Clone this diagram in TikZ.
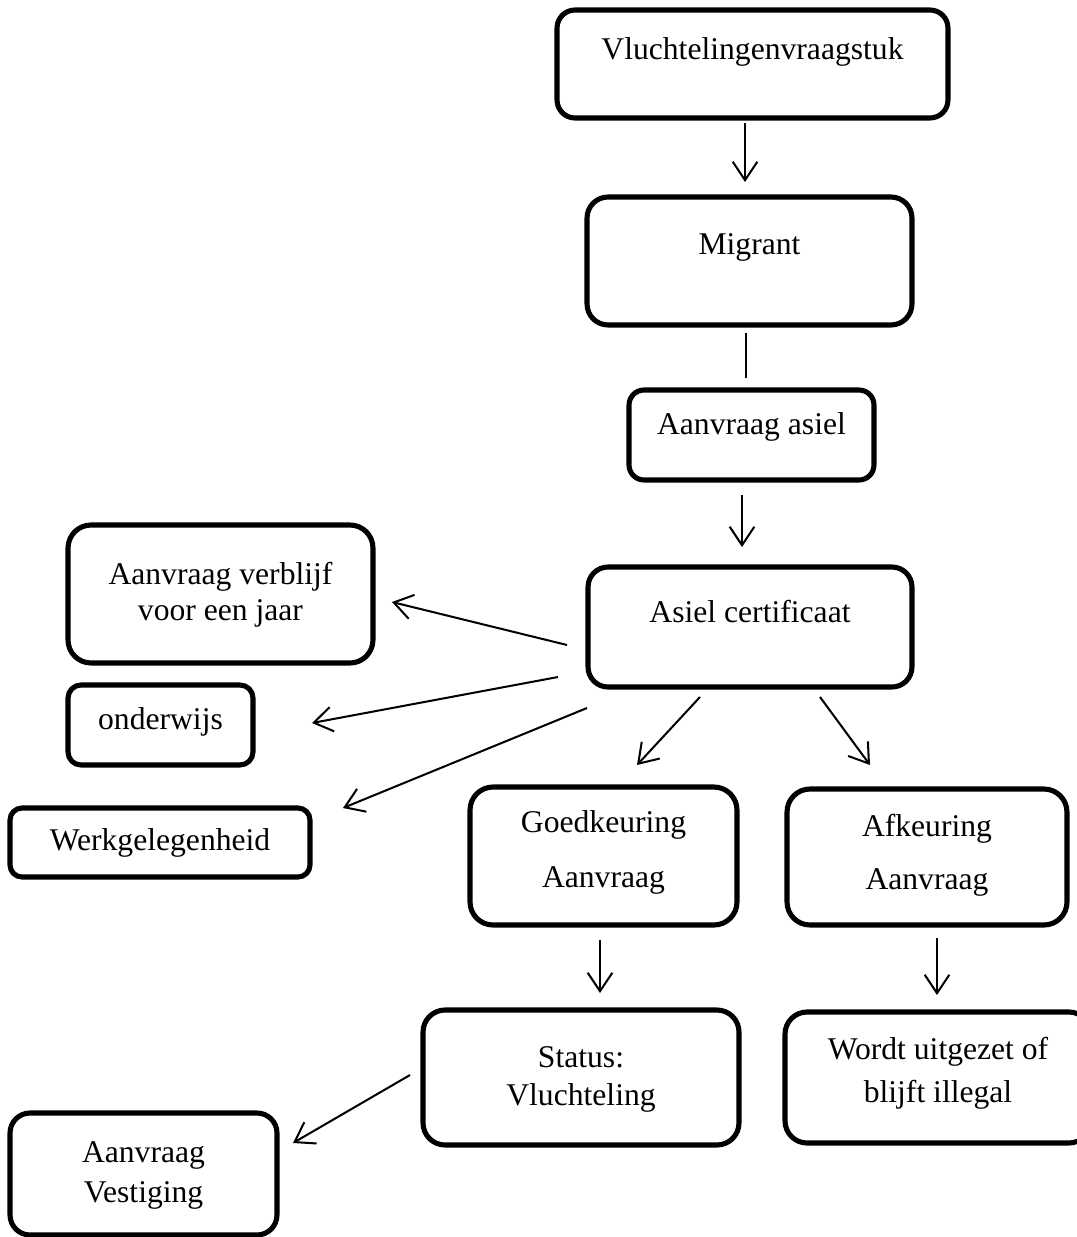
\documentclass[tikz,border=0pt]{standalone}
\usepackage{fontspec}
\setmainfont{Liberation Serif}
\usetikzlibrary{arrows.meta,calc}
\begin{document}
\begin{tikzpicture}[x=0.02cm,y=-0.02cm,
  box/.style={draw, line width=2.9pt, inner sep=0pt, outer sep=0pt},
  lbl/.style={inner sep=0pt, align=center, font=\fontsize{18}{#1}\selectfont},
  lbl/.default=22pt,
  conn/.style={line width=1.15pt},
  arr/.style={conn, -{Straight Barb[length=10.5pt,width=14pt,line width=1.15pt]}}]
\useasboundingbox (0,0) rectangle (1077,1237);

% boxes
\node[box, minimum width=7.82cm, minimum height=2.16cm, rounded corners=0.36cm] (vl) at (752.5,64) {};
\node[box, minimum width=6.5cm, minimum height=2.56cm, rounded corners=0.42cm] (mi) at (749.5,261) {};
\node[box, minimum width=4.9cm, minimum height=1.8cm, rounded corners=0.3cm] (aa) at (751.5,435) {};
\node[box, minimum width=6.48cm, minimum height=2.4cm, rounded corners=0.4cm] (ac) at (750,627) {};
\node[box, minimum width=6.1cm, minimum height=2.76cm, rounded corners=0.46cm] (av) at (220.5,594) {};
\node[box, minimum width=3.7cm, minimum height=1.6cm, rounded corners=0.26cm] (on) at (160.5,725) {};
\node[box, minimum width=6.0cm, minimum height=1.38cm, rounded corners=0.24cm] (wg) at (160,842.5) {};
\node[box, minimum width=5.34cm, minimum height=2.76cm, rounded corners=0.46cm] (gk) at (603.5,856) {};
\node[box, minimum width=5.6cm, minimum height=2.72cm, rounded corners=0.46cm] (ak) at (927,857) {};
\node[box, minimum width=6.32cm, minimum height=2.7cm, rounded corners=0.44cm] (st) at (581,1077.5) {};
\node[box, minimum width=6.12cm, minimum height=2.62cm, rounded corners=0.44cm] (wu) at (938,1077.5) {};
\node[box, minimum width=5.34cm, minimum height=2.44cm, rounded corners=0.4cm] (ve) at (143.5,1174) {};

% texts
\node[lbl] (vl-t) at (752.5,52) {Vluchtelingenvraagstuk};
\node[lbl] (mi-t) at (749.5,247) {Migrant};
\node[lbl] (aa-t) at (751.5,427) {Aanvraag asiel};
\node[lbl] (ac-t) at (750,612) {Asiel certificaat};
\node[lbl=20.5pt] (av-t) at (220.5,595) {Aanvraag verblijf\\voor een jaar};
\node[lbl] (on-t) at (160.5,722) {onderwijs};
\node[lbl] (wg-t) at (160,843) {Werkgelegenheid};
\node[lbl=31.3pt] (gk-t) at (603.5,852.5) {Goedkeuring\\Aanvraag};
\node[lbl=30.2pt] (ak-t) at (927,855.5) {Afkeuring\\Aanvraag};
\node[lbl=21.6pt] (st-t) at (581,1079) {Status:\\Vluchteling};
\node[lbl=24.5pt] (wu-t) at (938,1073.5) {Wordt uitgezet of\\blijft illegal};
\node[lbl=22.8pt] (ve-t) at (143.5,1175) {Aanvraag\\Vestiging};

% connectors
\draw[arr] ($(vl.south)+(-7.5,5)$) -- ($(mi.north)+(-4.5,-15)$);
\draw[conn] ($(mi.south)+(-3.5,8)$) -- ($(aa.north)+(-5.5,-12)$);
\draw[arr] ($(aa.south)+(-9.5,15)$) -- ($(ac.north)+(-8,-20)$);
\draw[arr] ($(ac.west)+(-21,18)$) -- ($(av.east)+(19,8)$);
\draw[arr] ($(ac.west)+(-30,50)$) -- ($(on.east)+(59,-2)$);
\draw[arr] ($(ac.west)+(-1,81)$) -- ($(wg.east)+(33,-34.5)$);
\draw[arr] ($(ac.south)+(-50,10)$) -- ($(gk.north)+(33.5,-22)$);
\draw[arr] ($(ac.south)+(70,10)$) -- ($(ak.north)+(-57,-24)$);
\draw[arr] ($(gk.south)+(-3.5,15)$) -- ($(st.north)+(19,-17)$);
\draw[arr] ($(ak.south)+(10,13)$) -- ($(wu.north)+(-1,-17)$);
\draw[arr] ($(st.west)+(-13,-2.5)$) -- ($(ve.east)+(16,-31)$);
\end{tikzpicture}
\end{document}
